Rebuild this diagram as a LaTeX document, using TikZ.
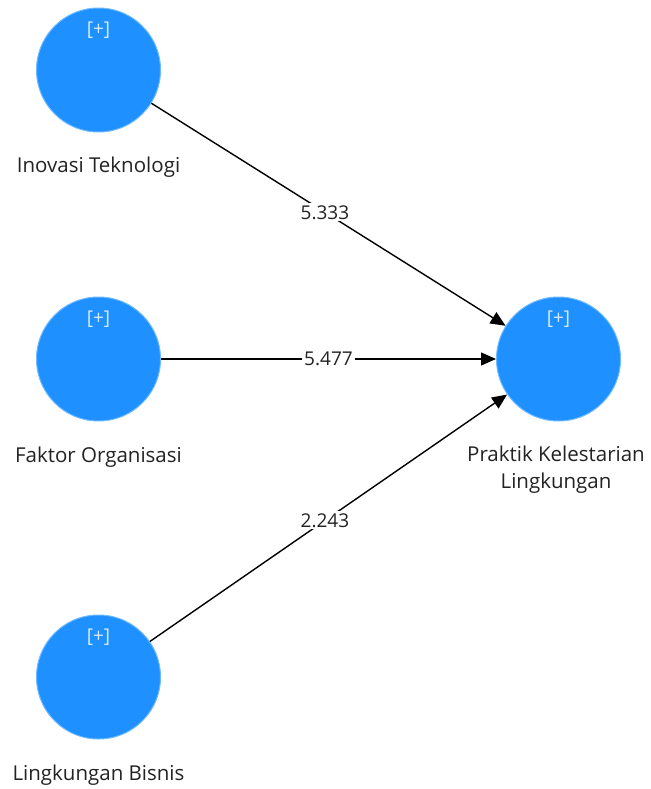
\documentclass[tikz,border=0pt]{standalone}
\usepackage{fontspec}
\setmainfont{Open Sans}
\usetikzlibrary{arrows.meta}
\definecolor{lvblue}{RGB}{30,144,255}
\definecolor{lvedge}{RGB}{110,185,255}
\definecolor{plus}{RGB}{215,235,255}
\definecolor{txt}{RGB}{35,35,35}
\begin{document}
\begin{tikzpicture}[x=1pt,y=-1pt,
  lv/.style={circle,fill=lvblue,draw=lvedge,line width=1pt,minimum size=124pt,inner sep=0pt},
  plusmark/.style={text=plus,font=\fontsize{19}{22}\selectfont},
  lbl/.style={text=txt,font=\fontsize{20.5}{27}\selectfont,align=center},
  path/.style={line width=1.4pt,-{Triangle[length=15pt,width=13pt]}},
  coef/.style={fill=white,text=txt,font=\fontsize{19}{22}\selectfont,inner sep=2pt}]
\useasboundingbox[fill=white] (0,0) rectangle (650,789);
\node[lv] (it) at (98.5,70) {};
\node[lv] (fo) at (98.5,359) {};
\node[lv] (lb) at (98.5,677) {};
\node[lv] (pk) at (558.5,359) {};
\node[plusmark] at (98.5,30) {[+]};
\node[plusmark] at (98.5,319) {[+]};
\node[plusmark] at (98.5,637) {[+]};
\node[plusmark] at (558.5,319) {[+]};
\node[lbl] (itl) at (98.5,167) {Inovasi Teknologi};
\node[lbl] (fol) at (98.5,457) {Faktor Organisasi};
\node[lbl] (lbl) at (98.5,775) {Lingkungan Bisnis};
\node[lbl] (pkl) at (556,470) {Praktik Kelestarian\\Lingkungan};
\draw[path] (it) -- node[coef,pos=0.49] {5.333} (pk);
\draw[path] (fo) -- node[coef,pos=0.5] {5.477} (pk);
\draw[path] (lb) -- node[coef,pos=0.49] {2.243} (pk);
\end{tikzpicture}
\end{document}
